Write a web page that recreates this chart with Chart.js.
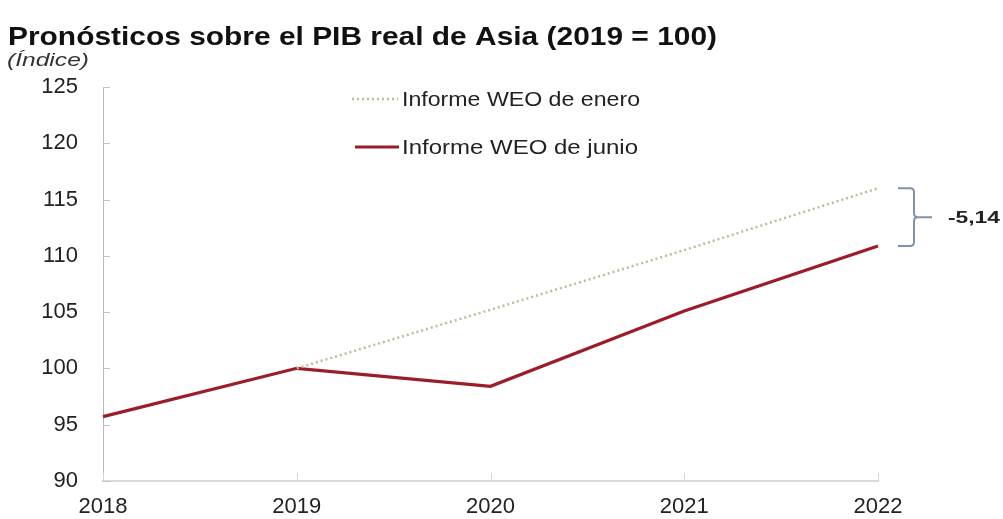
<!DOCTYPE html>
<html>
<head>
<meta charset="utf-8">
<script src="https://cdn.jsdelivr.net/npm/chart.js@4.4.1/dist/chart.umd.min.js"></script>
<style>
  html, body { margin: 0; padding: 0; background: #fff; }
  #grafico { display: block; }
</style>
</head>
<body>
<canvas id="grafico" width="1003" height="519"></canvas>
<script>
// series: PIB real de Asia, 2019 = 100
const anios = ['2018', '2019', '2020', '2021', '2022'];
const weoEnero = [null, 100, 105.2, 110.5, 116.0];
const weoJunio = [95.7, 100, 98.4, 105.1, 110.86];
const ticksY = [90, 95, 100, 105, 110, 115, 120, 125];

const titulo = 'Pronósticos sobre el PIB real de Asia (2019 = 100)';
const subtitulo = '(Índice)';
const leyenda = ['Informe WEO de enero', 'Informe WEO de junio'];

const colorEnero = '#c2b994';
const colorJunio = '#9c1d2a';
const colorLlave = '#7d93ad';

// texto estirado a un ancho fijo
function textoAncho(ctx, txt, x, y, ancho) {
	const w = ctx.measureText(txt).width;
	ctx.save();
	ctx.translate(x, y);
	ctx.scale(ancho / w, 1);
	ctx.fillText(txt, 0, 0);
	ctx.restore();
}

const extras = {
	id: 'extras',
	afterDraw(chart) {
		const ctx = chart.ctx;
		const x = chart.scales.x, y = chart.scales.y;
		const area = chart.chartArea;

		ctx.save();
		// marcas cortas hacia dentro
		ctx.strokeStyle = '#c4c4c4';
		ctx.lineWidth = 1;
		ticksY.forEach(v => {
			const py = Math.round(y.getPixelForValue(v)) + 0.5;
			ctx.beginPath(); ctx.moveTo(area.left, py); ctx.lineTo(area.left + 7, py); ctx.stroke();
		});
		ctx.strokeStyle = '#d6d6d6';
		anios.forEach((a, i) => {
			const px = Math.round(x.getPixelForValue(i)) + 0.5;
			ctx.beginPath(); ctx.moveTo(px, area.bottom); ctx.lineTo(px, area.bottom - 8); ctx.stroke();
		});

		// titulos
		ctx.fillStyle = '#111';
		ctx.textBaseline = 'alphabetic';
		ctx.textAlign = 'left';
		ctx.font = 'bold 25px "Liberation Sans", Arial, sans-serif';
		textoAncho(ctx, titulo, 8, 45, 709);
		ctx.fillStyle = '#333';
		ctx.font = 'italic 18px "Liberation Sans", Arial, sans-serif';
		textoAncho(ctx, subtitulo, 7, 66, 82);

		// leyenda
		ctx.lineCap = 'butt';
		ctx.strokeStyle = colorEnero;
		ctx.lineWidth = 2.5;
		ctx.setLineDash([2, 3]);
		ctx.beginPath(); ctx.moveTo(352, 99); ctx.lineTo(398, 99); ctx.stroke();
		ctx.setLineDash([]);
		ctx.strokeStyle = colorJunio;
		ctx.lineWidth = 3;
		ctx.beginPath(); ctx.moveTo(355, 147); ctx.lineTo(399, 147); ctx.stroke();
		ctx.fillStyle = '#222';
		ctx.font = '21px "Liberation Sans", Arial, sans-serif';
		ctx.textBaseline = 'middle';
		textoAncho(ctx, leyenda[0], 402, 100, 238);
		textoAncho(ctx, leyenda[1], 402, 148, 236);

		// llave con la diferencia en 2022
		const ult = anios.length - 1;
		const yA = y.getPixelForValue(weoEnero[ult]);
		const yB = y.getPixelForValue(weoJunio[ult]);
		const yM = (yA + yB) / 2;
		const bx = 914;
		ctx.strokeStyle = colorLlave;
		ctx.lineWidth = 2;
		ctx.beginPath();
		ctx.moveTo(898, yA); ctx.lineTo(bx - 4, yA);
		ctx.quadraticCurveTo(bx, yA, bx, yA + 4);
		ctx.lineTo(bx, yM - 4);
		ctx.quadraticCurveTo(bx, yM, bx + 4, yM);
		ctx.lineTo(932, yM);
		ctx.moveTo(bx + 4, yM);
		ctx.quadraticCurveTo(bx, yM, bx, yM + 4);
		ctx.lineTo(bx, yB - 4);
		ctx.quadraticCurveTo(bx, yB, bx - 4, yB);
		ctx.lineTo(898, yB);
		ctx.stroke();

		const dif = (weoJunio[ult] - weoEnero[ult]).toFixed(2).replace('.', ',');
		ctx.fillStyle = '#222';
		ctx.font = 'bold 16px "Liberation Sans", Arial, sans-serif';
		textoAncho(ctx, dif, 948, yM + 1, 52);
		ctx.restore();
	}
};

new Chart(document.getElementById('grafico'), {
	type: 'line',
	data: {
		labels: anios,
		datasets: [{
			label: leyenda[0],
			data: weoEnero,
			borderColor: colorEnero,
			borderWidth: 2.5,
			borderDash: [2, 3],
			pointRadius: 0,
			tension: 0,
			spanGaps: false
		}, {
			label: leyenda[1],
			data: weoJunio,
			borderColor: colorJunio,
			borderWidth: 3.2,
			pointRadius: 0,
			tension: 0
		}]
	},
	options: {
		responsive: false,
		animation: false,
		layout: { padding: { top: 87, right: 125, bottom: 0, left: 0 } },
		plugins: {
			legend: { display: false },
			title: { display: false },
			tooltip: { enabled: false }
		},
		scales: {
			x: {
				offset: false,
				grid: { drawOnChartArea: false, drawTicks: false },
				border: { color: '#d9d9d9', width: 2 },
				ticks: {
					color: '#222',
					padding: 13,
					maxRotation: 0,
					font: { family: '"Liberation Sans", Arial, sans-serif', size: 22 }
				},
				afterFit(s) { s.height = 36; }
			},
			y: {
				min: 90,
				max: 125,
				grid: { drawOnChartArea: false, drawTicks: false },
				border: { color: '#b8b8b8', width: 1 },
				ticks: {
					stepSize: 5,
					color: '#222',
					padding: 25,
					font: { family: '"Liberation Sans", Arial, sans-serif', size: 22 }
				},
				afterFit(s) { s.width = 103; }
			}
		}
	},
	plugins: [extras]
});
</script>
</body>
</html>
